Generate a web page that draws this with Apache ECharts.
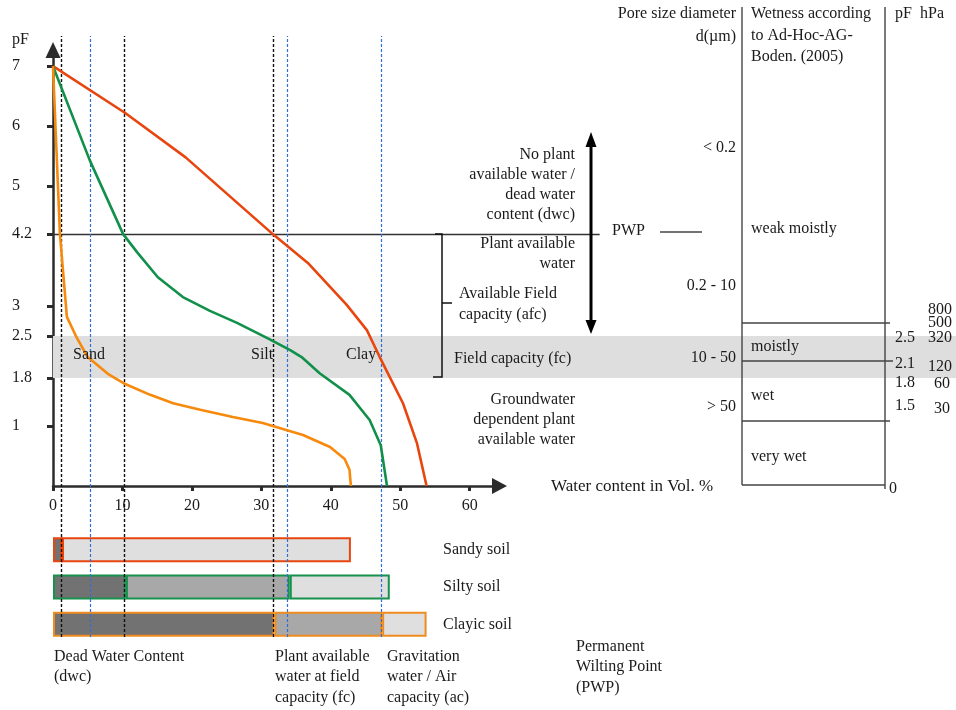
<!DOCTYPE html>
<html><head><meta charset="utf-8">
<script src="https://cdn.jsdelivr.net/npm/echarts@6/dist/echarts.min.js"></script>
<style>html,body{margin:0;padding:0;background:#fff}#c{width:956px;height:710px}</style>
</head><body><div id="c"></div>
<script>
// ---------- data ----------
const xTickValues = [0, 10, 20, 30, 40, 50, 60];
const pfTickValues = [1, 1.8, 2.5, 3, 4.2, 5, 6, 7];
const clayCurve = [[0,7],[10.4,6.22],[19.1,5.48],[31.65,4.2],[36.7,3.72],[42.3,3.02],[45.2,2.6],[47.05,2.15],[50.4,1.38],[52.4,0.72],[53.8,0]];
const siltCurve = [[0,7],[5.3,5.43],[10.1,4.2],[12.1,3.9],[15.1,3.48],[18.7,3.15],[22.6,2.92],[26.5,2.72],[30.8,2.47],[34.1,2.27],[35.8,2.15],[38.4,1.88],[42.7,1.52],[45.6,1.1],[47.2,0.68],[48.1,0]];
const sandCurve = [[0,7],[1.0,4.2],[2.0,2.82],[3.3,2.5],[5.0,2.15],[7.9,1.87],[10.4,1.7],[14.0,1.52],[17.3,1.38],[21.2,1.27],[25.9,1.15],[30.2,1.05],[33.7,0.93],[36.0,0.85],[39.9,0.65],[42.0,0.45],[42.7,0.27],[42.9,0]];
const pwpLevel = 4.2;
const fcBand = [1.8, 2.5];
const pwpWaterContent = [1.15, 10.2, 31.65];   // black dashed lines
const fcWaterContent = [5.3, 33.8, 47.2];      // blue dashed lines
const soils = ['Sandy soil', 'Silty soil', 'Clayic soil'];
const dwcEnd = [1.3, 10.5, 31.9];
const fcEnd = [1.3, 34.1, 47.4];
const totalEnd = [42.9, 48.5, 53.8];

// ---------- styling ----------
const FONT = '"Liberation Serif", "Times New Roman", serif';
const TXT = '#1a1a1a';
const AX = '#2b2b2b';
const X_MAX = 64.3, Y_MAX = 7.27, WIDE_MAX = 130;
const soilBorders = ['#e8450f', '#17924d', '#f08c1e'];
const segColors = ['#727272', '#a8a8a8', '#dfdfdf'];
const segValues = [
  dwcEnd,
  fcEnd.map((v, i) => +(v - dwcEnd[i]).toFixed(2)),
  totalEnd.map((v, i) => +(v - fcEnd[i]).toFixed(2))
];

const notes = [
  ['pF', 12, 40, 'left'],
  ['Water content in Vol. %', 551, 487, 'left', 17],
  ['No plant', 575, 155, 'right'],
  ['available water /', 575, 175, 'right'],
  ['dead water', 575, 195, 'right'],
  ['content (dwc)', 575, 215, 'right'],
  ['Plant available', 575, 244, 'right'],
  ['water', 575, 264, 'right'],
  ['Available Field', 459, 294, 'left'],
  ['capacity (afc)', 459, 315, 'left'],
  ['Field capacity (fc)', 454, 359, 'left'],
  ['Groundwater', 575, 400, 'right'],
  ['dependent plant', 575, 420, 'right'],
  ['available water', 575, 440, 'right'],
  ['Sand', 73, 355, 'left'],
  ['Silt', 251, 355, 'left'],
  ['Clay', 346, 355, 'left'],
  ['PWP', 612, 231, 'left'],
  ['Pore size diameter', 736, 14, 'right'],
  ['d(\u00b5m)', 736, 37, 'right'],
  ['< 0.2', 736, 148, 'right'],
  ['0.2 - 10', 736, 286, 'right'],
  ['10 - 50', 736, 358, 'right'],
  ['> 50', 736, 407, 'right'],
  ['Wetness according', 751, 14, 'left'],
  ['to Ad-Hoc-AG-', 751, 36, 'left'],
  ['Boden. (2005)', 751, 57, 'left'],
  ['weak moistly', 751, 229, 'left'],
  ['moistly', 751, 347, 'left'],
  ['wet', 751, 396, 'left'],
  ['very wet', 751, 457, 'left'],
  ['pF', 895, 14, 'left'],
  ['hPa', 920, 14, 'left'],
  ['800', 928, 310, 'left'],
  ['500', 928, 323, 'left'],
  ['2.5', 895, 338, 'left'],
  ['320', 928, 338, 'left'],
  ['2.1', 895, 364, 'left'],
  ['120', 928, 367, 'left'],
  ['1.8', 895, 383, 'left'],
  ['60', 934, 384, 'left'],
  ['1.5', 895, 406, 'left'],
  ['30', 934, 409, 'left'],
  ['0', 889, 489, 'left'],
  ['Dead Water Content', 54, 657, 'left'],
  ['(dwc)', 54, 677, 'left'],
  ['Plant available', 275, 657, 'left'],
  ['water at field', 275, 677, 'left'],
  ['capacity (fc)', 275, 698, 'left'],
  ['Gravitation', 387, 657, 'left'],
  ['water / Air', 387, 677, 'left'],
  ['capacity (ac)', 387, 698, 'left'],
  ['Permanent', 576, 647, 'left'],
  ['Wilting Point', 576, 667, 'left'],
  ['(PWP)', 576, 688, 'left']
];

const tableLines = [
  [742, 7, 742, 485], [885, 7, 885, 489], [742, 485, 885, 485],
  [742, 323, 890, 323], [742, 361, 893, 361], [742, 421, 890, 421],
  [660, 232, 702, 232]
];

const graphics = [];
notes.forEach(n => graphics.push({
  type: 'text', x: n[1], y: n[2], z: 20,
  style: { text: n[0], font: (n[4] || 16) + 'px ' + FONT, fill: TXT, align: n[3], verticalAlign: 'middle' }
}));
tableLines.forEach(l => graphics.push({
  type: 'line', z: 20, shape: { x1: l[0], y1: l[1], x2: l[2], y2: l[3] },
  style: { stroke: '#444', lineWidth: 1.4 }
}));
// brace
graphics.push({ type: 'polyline', z: 20, shape: { points: [[435,234],[442,234],[442,377],[433,377]] }, style: { stroke: '#111', lineWidth: 1.5, fill: null } });
graphics.push({ type: 'line', z: 20, shape: { x1: 442, y1: 303, x2: 452, y2: 303 }, style: { stroke: '#111', lineWidth: 1.5 } });
// double arrow
graphics.push({ type: 'line', z: 20, shape: { x1: 591, y1: 143, x2: 591, y2: 324 }, style: { stroke: '#000', lineWidth: 3 } });
graphics.push({ type: 'polygon', z: 20, shape: { points: [[591,132],[585.5,147],[596.5,147]] }, style: { fill: '#000' } });
graphics.push({ type: 'polygon', z: 20, shape: { points: [[591,334],[585.5,320],[596.5,320]] }, style: { fill: '#000' } });

const chart = echarts.init(document.getElementById('c'));
const hiddenValue = (grid, min, max) => ({ gridIndex: grid, type: 'value', min, max, show: false, splitLine: { show: false } });

const option = {
  animation: false,
  backgroundColor: '#fff',
  grid: [
    { left: 53, top: 50, width: 446.5, height: 436 },
    { left: 53, top: 531, width: 446.5, height: 112 },
    { left: 53, top: 50, right: 0, height: 436 },
    { left: 53, top: 36, width: 446.5, height: 601 }
  ],
  xAxis: [
    {
      gridIndex: 0, type: 'value', min: 0, max: X_MAX, interval: 10,
      axisLine: { show: true, lineStyle: { color: AX, width: 2.5 }, symbol: ['none', 'triangle'], symbolSize: [16, 15] },
      axisTick: { show: true, customValues: xTickValues, length: 5, lineStyle: { color: AX, width: 3 } },
      axisLabel: { customValues: xTickValues, margin: 12, color: TXT, fontFamily: FONT, fontSize: 16 },
      splitLine: { show: false }
    },
    hiddenValue(1, 0, X_MAX),
    hiddenValue(2, 0, WIDE_MAX),
    hiddenValue(3, 0, X_MAX)
  ],
  yAxis: [
    {
      gridIndex: 0, type: 'value', min: 0, max: Y_MAX,
      axisLine: { show: true, lineStyle: { color: AX, width: 2.5 }, symbol: ['none', 'triangle'], symbolSize: [15, 16] },
      axisTick: { show: true, customValues: pfTickValues, length: 6, lineStyle: { color: AX, width: 3 } },
      axisLabel: { customValues: pfTickValues, margin: 41, align: 'left', color: TXT, fontFamily: FONT, fontSize: 16 },
      splitLine: { show: false }
    },
    {
      gridIndex: 1, type: 'category', data: soils, inverse: true,
      axisLine: { show: false }, axisTick: { show: false },
      axisLabel: { margin: -390, align: 'left', color: TXT, fontFamily: FONT, fontSize: 16 }
    },
    hiddenValue(2, 0, Y_MAX),
    hiddenValue(3, 0, 1)
  ],
  graphic: graphics,
  series: [
    {
      type: 'line', xAxisIndex: 2, yAxisIndex: 2, data: [], z: 0, silent: true,
      markArea: { silent: true, itemStyle: { color: '#dedede' }, data: [[{ yAxis: fcBand[0] }, { yAxis: fcBand[1] }]] },
      markLine: {
        silent: true, symbol: ['none', 'none'], label: { show: false },
        lineStyle: { color: '#333', width: 1.3, type: 'solid' },
        data: [[{ coord: [0, pwpLevel] }, { coord: [78.7, pwpLevel] }]]
      }
    },
    ...segValues.map((vals, k) => ({
      type: 'bar', xAxisIndex: 1, yAxisIndex: 1, stack: 'soil', barWidth: 25, z: 3,
      name: ['dwc', 'fc', 'ac'][k],
      data: vals.map((v, i) => ({ value: v, itemStyle: { color: segColors[k], borderColor: soilBorders[i], borderWidth: 2 } }))
    })),
    { type: 'line', name: 'Clay', data: clayCurve, symbol: 'none', z: 5, lineStyle: { color: '#e8450f', width: 2.6 } },
    { type: 'line', name: 'Silt', data: siltCurve, symbol: 'none', z: 5, lineStyle: { color: '#10904a', width: 2.6 } },
    { type: 'line', name: 'Sand', data: sandCurve, symbol: 'none', z: 5, lineStyle: { color: '#f7890c', width: 2.6 } },
    {
      type: 'line', xAxisIndex: 3, yAxisIndex: 3, data: [], z: 10, silent: true,
      markLine: {
        silent: true, symbol: ['none', 'none'], label: { show: false },
        data: pwpWaterContent.map(v => ({ xAxis: v, lineStyle: { color: '#111', width: 1.4, type: [3, 2] } }))
          .concat(fcWaterContent.map(v => ({ xAxis: v, lineStyle: { color: '#2f70d6', width: 1.2, type: [3, 2] } })))
      }
    }
  ]
};
chart.setOption(option);
</script></body></html>
